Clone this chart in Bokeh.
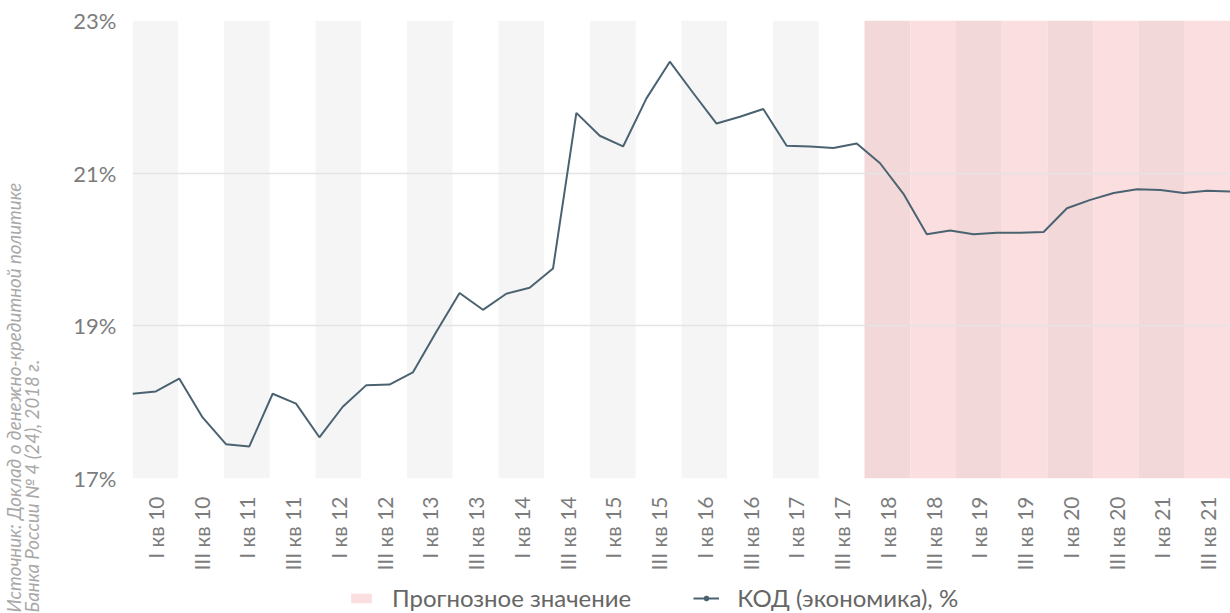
import math
from bokeh.plotting import figure
from bokeh.layouts import row, column
from bokeh.models import (Range1d, FixedTicker, PrintfTickFormatter, Legend, LegendItem,
                          ColumnDataSource)
from bokeh.core.properties import value
from bokeh.embed import file_html
from bokeh.resources import INLINE

# ---- data ----
years = [10, 11, 12, 13, 14, 15, 16, 17, 18, 19, 20, 21]
quarters = ["I", "II", "III", "IV"]
periods = [f"{q} кв {y}" for y in years for q in quarters]
kod = [18.11, 18.14, 18.31, 17.80, 17.45, 17.42, 18.11, 17.98,
       17.54, 17.94, 18.22, 18.23, 18.39, 18.92, 19.43, 19.21,
       19.42, 19.50, 19.75, 21.79, 21.49, 21.35, 21.98, 22.46,
       22.05, 21.65, 21.74, 21.84, 21.36, 21.35, 21.33, 21.39,
       21.13, 20.73, 20.20, 20.25, 20.20, 20.22, 20.22, 20.23,
       20.54, 20.65, 20.74, 20.79, 20.78, 20.74, 20.77, 20.76]
forecast_start = "I кв 18"
tick_labels = [p for p in periods if p.split()[0] in ("I", "III")]
y_ticks = [17, 19, 21, 23]
series_name = "КОД (экономика), %"
forecast_name = "Прогнозное значение"
source_lines = ["Источник: Доклад о денежно-кредитной политике",
                "Банка России № 4 (24), 2018 г."]

FONT = "Lato"
LINE_COLOR = "#4b6371"
TEXT_COLOR = "#7c7c7c"
FC_DARK, FC_LIGHT = "#f3d8d9", "#fbdfe0"

W, H = 1230, 613
LEFT_W = 46
LEG_H = 40
MAIN_W, MAIN_H = W - LEFT_W, H - LEG_H

n = len(periods)
nb = n // 2
pt_x = [2 * nb * i for i in range(n)]
band_w = 2 * (n - 1)
band_left = [band_w * k for k in range(nb)]
band_right = [band_w * (k + 1) for k in range(nb)]
fc_band = periods.index(forecast_start) // 2
band_color = []
for k in range(nb):
    if k >= fc_band:
        band_color.append(FC_DARK if k % 2 == 0 else FC_LIGHT)
    else:
        band_color.append("#f5f5f5" if k % 2 == 0 else "#ffffff")
tick_pos = [band_w * k + band_w // 2 for k in range(nb)]


def bare(fig):
    fig.outline_line_color = None
    fig.background_fill_color = "white"
    fig.border_fill_color = "white"
    fig.axis.visible = False
    fig.grid.visible = False
    return fig


# ---- main chart ----
p = figure(width=MAIN_W, height=MAIN_H, output_backend="svg", toolbar_location=None,
           x_range=Range1d(0, pt_x[-1]), y_range=Range1d(17, 23),
           min_border_left=86, min_border_right=0, min_border_top=20, min_border_bottom=95)
p.outline_line_color = None
p.background_fill_color = "white"
p.border_fill_color = "white"

p.quad(left=band_left, right=band_right, bottom=17, top=23, fill_color=band_color,
       line_color=None, level="image")
p.line(pt_x, kod, line_color=LINE_COLOR, line_width=2)

p.yaxis.ticker = FixedTicker(ticks=y_ticks)
p.yaxis.formatter = PrintfTickFormatter(format="%d%%")
p.yaxis.axis_line_color = None
p.yaxis.major_tick_line_color = None
p.yaxis.minor_tick_line_color = None
p.yaxis.major_label_text_font = FONT
p.yaxis.major_label_text_font_size = "22px"
p.yaxis.major_label_text_color = TEXT_COLOR
p.yaxis.major_label_standoff = 10

p.xaxis.ticker = FixedTicker(ticks=tick_pos)
p.xaxis.major_label_overrides = {tp: lab for tp, lab in zip(tick_pos, tick_labels)}
p.xaxis.major_label_orientation = math.pi / 2
p.xaxis.axis_line_color = None
p.xaxis.major_tick_line_color = None
p.xaxis.minor_tick_line_color = None
p.xaxis.major_label_text_font = FONT
p.xaxis.major_label_text_font_size = "21px"
p.xaxis.major_label_text_color = TEXT_COLOR
p.xaxis.major_label_standoff = 12

p.xgrid.grid_line_color = None
p.ygrid.ticker = FixedTicker(ticks=y_ticks)
p.ygrid.grid_line_color = "#e4e4e4"
p.ygrid.grid_line_width = 1.5

# ---- legend strip ----
lg = bare(figure(width=MAIN_W, height=LEG_H, output_backend="svg", toolbar_location=None,
                 x_range=Range1d(0, MAIN_W), y_range=Range1d(0, LEG_H),
                 min_border=0))
proxy = ColumnDataSource(dict(x=[-50], y=[-50]))   # off-screen legend proxies
fc_r = lg.rect(x="x", y="y", width=1, height=1, source=proxy, fill_color=FC_LIGHT, line_color=None)
lg_line = lg.line(x="x", y="y", source=proxy, line_color=LINE_COLOR, line_width=2)
lg_dot = lg.scatter(x="x", y="y", source=proxy, size=6, fill_color=LINE_COLOR, line_color=LINE_COLOR)
legend = Legend(items=[LegendItem(label=forecast_name, renderers=[fc_r]),
                       LegendItem(label=series_name, renderers=[lg_line, lg_dot])],
                orientation="horizontal", location=(216, 1),
                padding=0, margin=0, spacing=62, label_standoff=18,
                glyph_width=26, glyph_height=12,
                border_line_color=None, background_fill_alpha=0,
                label_text_font=FONT, label_text_font_size="24px", label_text_color="#666666")
lg.add_layout(legend)

# ---- source strip (left) ----
sf = bare(figure(width=LEFT_W, height=H, output_backend="svg", toolbar_location=None,
                 x_range=Range1d(0, LEFT_W), y_range=Range1d(0, H), min_border=0))
sf.text(x=[13, 31], y=[1, 1], text=source_lines, angle=math.pi / 2,
        text_align="left", text_baseline="alphabetic",
        text_font=value(FONT), text_font_style="italic", text_font_size="18.7px",
        text_color="#a8a8a8")

layout = row(sf, column(p, lg))
open("out.html", "w").write(file_html(layout, INLINE))
